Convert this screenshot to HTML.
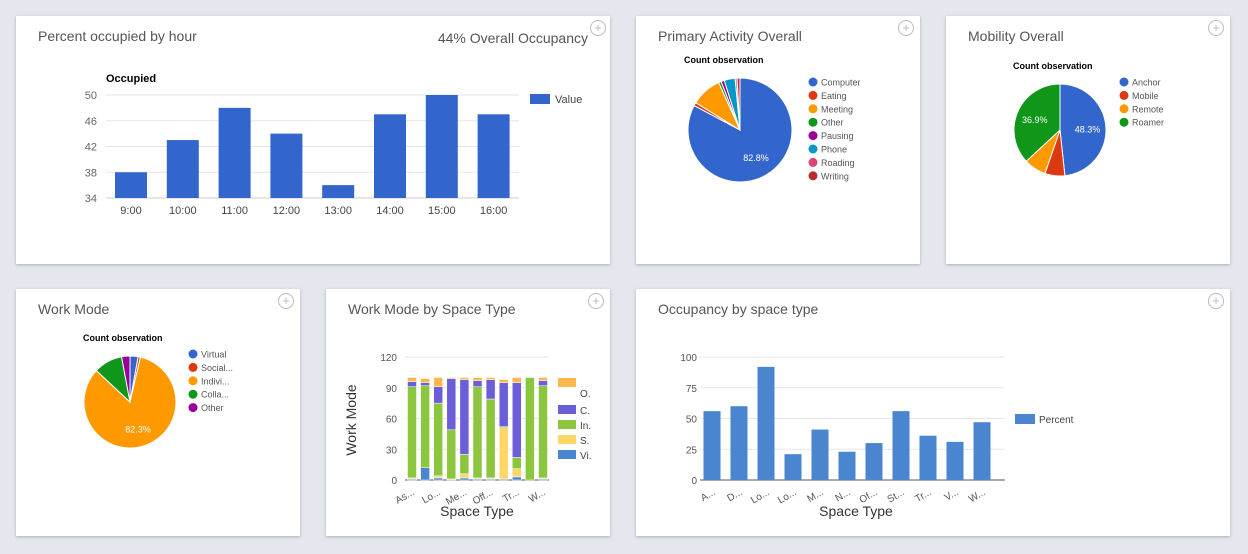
<!DOCTYPE html>
<html><head><meta charset="utf-8"><style>
body{margin:0;width:1248px;height:554px;background:#e4e7ee;font-family:"Liberation Sans",sans-serif;position:relative;overflow:hidden}
.card{position:absolute;background:#fff;box-shadow:0 1px 3px rgba(0,0,0,.25)}
.t{position:absolute;left:22px;top:12px;font-size:14px;color:#555}
.pl{position:absolute;right:6px;top:4px;width:14px;height:14px;border:1px solid #bbb;border-radius:50%;color:#bbb;font-size:13px;line-height:13px;text-align:center}
svg{position:absolute;left:0;top:0}
</style></head><body>
<div class="card" style="left:16px;top:16px;width:594px;height:248px"><div class="t">Percent occupied by hour</div><div style="position:absolute;right:22px;top:14px;font-size:14px;color:#555">44% Overall Occupancy</div></div>
<div class="card" style="left:636px;top:16px;width:284px;height:248px"><div class="t">Primary Activity Overall</div><div class="pl">+</div></div>
<div class="card" style="left:946px;top:16px;width:284px;height:248px"><div class="t">Mobility Overall</div><div class="pl">+</div></div>
<div class="card" style="left:16px;top:289px;width:284px;height:247px"><div class="t">Work Mode</div><div class="pl">+</div></div>
<div class="card" style="left:326px;top:289px;width:284px;height:247px"><div class="t">Work Mode by Space Type</div><div class="pl">+</div></div>
<div class="card" style="left:636px;top:289px;width:594px;height:247px"><div class="t">Occupancy by space type</div><div class="pl">+</div></div>
<div class="pl" style="left:590px;top:20px">+</div>
<svg id="s" width="1248" height="554" font-family="Liberation Sans, sans-serif"></svg>
<script>
// chart 1
const hours=["9:00","10:00","11:00","12:00","13:00","14:00","15:00","16:00"];
const hourVals=[38,43,48,44,36,47,50,47];
const hourTicks=[34,38,42,46,50];
// pies
const actLabels=["Computer","Eating","Meeting","Other","Pausing","Phone","Roading","Writing"];
const actVals=[82.8,1.0,9.5,0.8,1.0,3.4,0.6,0.9];
const mobLabels=["Anchor","Mobile","Remote","Roamer"];
const mobVals=[48.3,7.0,7.8,36.9];
const wmLabels=["Virtual","Social...","Indivi...","Colla...","Other"];
const wmVals=[2.8,0.8,82.3,10.0,2.9];
// stacked
const spLabels=["As...","","Lo...","","Me...","","Off...","","Tr...","","W..."];
const stVi=[1,12,2,0,2,1,1,1,3,0,1];
const stS=[1,0,2,1,4,1,1,50,8,0,1];
const stIn=[89,80,71,48,19,89,77,1,11,100,90];
const stC=[5,3,16,50,73,6,19,43,73,0,5];
const stO=[4,4,9,1,2,3,2,3,5,0,3];
const stTicks=[0,30,60,90,120];
// occupancy by space
const occLabels=["A...","D...","Lo...","Lo...","M...","N...","Of...","St...","Tr...","V...","W..."];
const occVals=[56,60,92,21,41,23,30,56,36,31,47];
const occTicks=[0,25,50,75,100];

const S=document.getElementById('s');const NS="http://www.w3.org/2000/svg";
function el(t,a,txt){const e=document.createElementNS(NS,t);for(const k in a)e.setAttribute(k,a[k]);if(txt!==undefined)e.textContent=txt;S.appendChild(e);return e;}

// chart1
const y1=v=>198-(v-34)/16*103, x1=i=>131+i*51.8;
hourTicks.forEach(v=>{const l=el('line',{x1:106,x2:519,y1:y1(v),y2:y1(v),stroke:v==34?'#ccc':'#e6e6e6'});
const t=el('text',{x:97,y:y1(v)+4,'font-size':11,fill:'#666','text-anchor':'end'},v);});
hourVals.forEach((v,i)=>{const r=el('rect',{x:x1(i)-16,y:y1(v),width:32,height:198-y1(v),fill:'#3366cc'});
const t=el('text',{x:x1(i),y:214,'font-size':11,fill:'#444','text-anchor':'middle'},hours[i]);});
let e=el('text',{x:106,y:82,'font-size':11,'font-weight':'bold'},'Occupied');
e=el('rect',{x:530,y:94,width:20,height:10,fill:'#3366cc'});
e=el('text',{x:555,y:103,'font-size':11,fill:'#444'},'Value');

// pies
function pie(cx,cy,r,vals,labels,cols,lx,ly,title,tx){
 const tot=vals.reduce((a,b)=>a+b,0);let a0=-Math.PI/2;
 vals.forEach((v,i)=>{const a1=a0+v/tot*2*Math.PI;const big=(a1-a0)>Math.PI?1:0;
  const p=el('path',{d:`M${cx},${cy}L${cx+r*Math.cos(a0)},${cy+r*Math.sin(a0)}A${r},${r} 0 ${big} 1 ${cx+r*Math.cos(a1)},${cy+r*Math.sin(a1)}Z`,fill:cols[i],stroke:'#fff','stroke-width':1});
  
  if(v/tot>0.3){const am=(a0+a1)/2;const t=el('text',{x:cx+r*0.6*Math.cos(am),y:cy+r*0.6*Math.sin(am)+4,'font-size':9,fill:'#fff','text-anchor':'middle'},v.toFixed(1)+'%');}
  a0=a1;});
 labels.forEach((l,i)=>{const c=el('circle',{cx:lx,cy:ly+i*13.4,r:4.5,fill:cols[i]});
  const t=el('text',{x:lx+8,y:ly+i*13.4+3.5,'font-size':9,fill:'#555'},l);});
 const t=el('text',{x:tx,y:cy-r-15,'font-size':9,'font-weight':'bold'},title);
}
pie(740,130,52,actVals,actLabels,['#3366cc','#dc3912','#ff9900','#109618','#990099','#0099c6','#dd4477','#b82e2e'],813,82,'Count observation',684);
pie(1060,130,46,mobVals,mobLabels,['#3366cc','#dc3912','#ff9900','#109618'],1124,82,'Count observation',1013);
pie(130,402,46,wmVals,wmLabels,['#3366cc','#dc3912','#ff9900','#109618','#990099'],193,354,'Count observation',83);

// stacked
const y5=v=>480-v/120*123, x5=i=>412+i*13.1;
stTicks.forEach(v=>{const l=el('line',{x1:405,x2:549,y1:y5(v),y2:y5(v),stroke:v==0?'#555':'#e6e6e6'});
const t=el('text',{x:397,y:y5(v)+4,'font-size':10,fill:'#555','text-anchor':'end'},v);});
const series=[[stVi,'#4a86d0','Vi.'],[stS,'#fed766','S.'],[stIn,'#8cc63f','In.'],[stC,'#6a5fd8','C.'],[stO,'#fdb74e','O.']];
stVi.forEach((_,i)=>{let acc=0;series.forEach(s=>{const v=s[0][i];if(v>0){const r=el('rect',{x:x5(i)-4.5,y:y5(acc+v),width:9,height:y5(acc)-y5(acc+v),fill:s[1],stroke:'#fff','stroke-width':0.5});}acc+=v;});
 if(spLabels[i]){const t=el('text',{x:x5(i)+3,y:494,'font-size':10,fill:'#555','text-anchor':'end',transform:`rotate(-30 ${x5(i)+3} 494)`},spLabels[i]);}});
[['O.',378,397],['C.',405,414],['In.',420,429],['S.',435,444],['Vi.',450,459]].forEach(([l,sy,ty],k)=>{const col=series[4-k][1];const r=el('rect',{x:558,y:sy,width:18,height:9,fill:col});
const t=el('text',{x:580,y:ty,'font-size':10,fill:'#444'},l);});
e=el('text',{x:356,y:420,'font-size':14,fill:'#333','text-anchor':'middle',transform:'rotate(-90 356 420)'},'Work Mode');
e=el('text',{x:477,y:516,'font-size':14,fill:'#333','text-anchor':'middle'},'Space Type');

// occupancy by space
const y6=v=>480-v/100*123, x6=i=>712+i*27;
occTicks.forEach(v=>{const l=el('line',{x1:700,x2:1005,y1:y6(v),y2:y6(v),stroke:v==0?'#555':'#e6e6e6'});
const t=el('text',{x:697,y:y6(v)+4,'font-size':10,fill:'#555','text-anchor':'end'},v);});
occVals.forEach((v,i)=>{const r=el('rect',{x:x6(i)-8.5,y:y6(v),width:17,height:480-y6(v),fill:'#4a86d0'});
const t=el('text',{x:x6(i)+4,y:494,'font-size':10,fill:'#555','text-anchor':'end',transform:`rotate(-30 ${x6(i)+4} 494)`},occLabels[i]);});
e=el('rect',{x:1015,y:414,width:20,height:10,fill:'#4a86d0'});
e=el('text',{x:1039,y:423,'font-size':10,fill:'#444'},'Percent');
e=el('text',{x:856,y:516,'font-size':14,fill:'#333','text-anchor':'middle'},'Space Type');
</script>
</body></html>
